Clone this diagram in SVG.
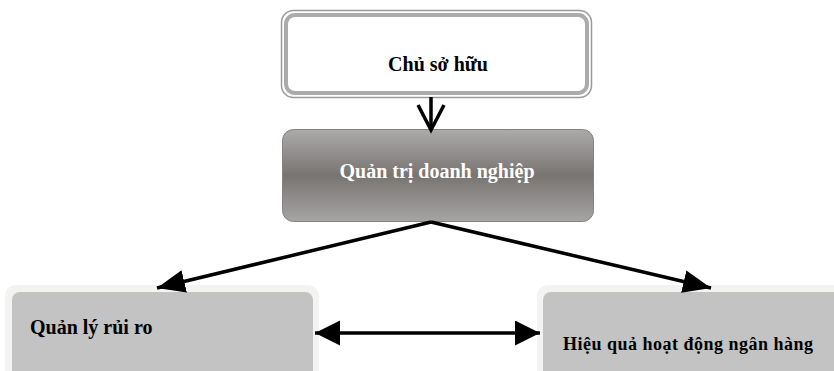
<svg xmlns="http://www.w3.org/2000/svg" width="834" height="371" viewBox="0 0 834 371">
<style>
.t{font-family:"Liberation Serif","Times New Roman",serif;font-weight:bold;font-size:20px}
.dark{fill:#000}
.light{fill:#fff}
.conn{stroke:#000;stroke-width:3.5;fill:none}
.outerband{fill:#f3f3f1}
.innerbox{fill:#c3c3c3}
</style>
<defs>
<linearGradient id="gmid" x1="0" y1="0" x2="0" y2="1">
<stop offset="0" stop-color="#adabaa"/>
<stop offset="0.5" stop-color="#777472"/>
<stop offset="1" stop-color="#a7a5a4"/>
</linearGradient>
<marker id="tri" markerUnits="userSpaceOnUse" markerWidth="30" markerHeight="24" refX="28" refY="11.5" orient="auto-start-reverse" viewBox="0 0 30 24">
<path d="M0,0 L28,11.5 L0,23 z" fill="#000"/>
</marker>
<marker id="tri2" markerUnits="userSpaceOnUse" markerWidth="27" markerHeight="26" refX="25" refY="12.5" orient="auto-start-reverse" viewBox="0 0 27 26">
<path d="M0,0 L25,12.5 L0,25 z" fill="#000"/>
</marker>
</defs>

<g id="node-chu-so-huu">
<rect x="281.5" y="10.5" width="310" height="87" rx="12" fill="#fff" stroke="#9a9a9a" stroke-width="1.5"/>
<rect x="286" y="15" width="301" height="78" rx="9" fill="#fff" stroke="#ababab" stroke-width="4"/>
<text class="t dark" x="438" y="71" text-anchor="middle">Chủ sở hữu</text>
</g>

<g id="node-quan-tri">
<rect x="282.5" y="129.5" width="311" height="92" rx="11" fill="url(#gmid)" stroke="#858382" stroke-width="1"/>
<text class="t light" x="437" y="178" text-anchor="middle">Quản trị doanh nghiệp</text>
</g>

<g id="node-quan-ly-rui-ro">
<rect class="outerband" x="5" y="285" width="314" height="100" rx="11"/>
<rect class="innerbox" x="12" y="292" width="301" height="100" rx="8"/>
<text class="t dark" x="30" y="334">Quản lý rủi ro</text>
</g>

<g id="node-hieu-qua">
<rect class="outerband" x="537" y="285" width="310" height="100" rx="11"/>
<rect class="innerbox" x="543" y="292" width="300" height="100" rx="8"/>
<text class="t dark" x="563" y="350" font-size="18" style="font-size:18px" textLength="250" lengthAdjust="spacing">Hiệu quả hoạt động ngân hàng</text>
</g>

<g id="connectors">
<line class="conn" x1="431" y1="97" x2="431" y2="130"/>
<polyline class="conn" points="418,105 431,130 444,105" stroke-linejoin="miter"/>
<line class="conn" x1="431" y1="222" x2="157" y2="288" marker-end="url(#tri)"/>
<line class="conn" x1="431" y1="222" x2="711" y2="288" marker-end="url(#tri)"/>
<line class="conn" x1="315" y1="333" x2="540" y2="333" stroke-width="3" marker-start="url(#tri2)" marker-end="url(#tri2)"/>
</g>
</svg>
